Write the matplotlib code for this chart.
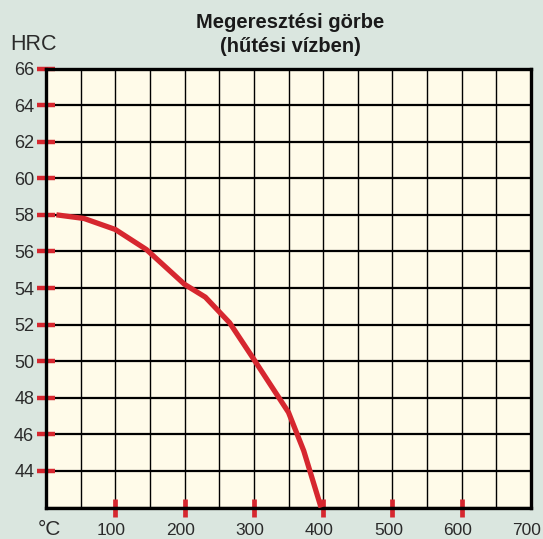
import matplotlib.pyplot as plt
import matplotlib.transforms as mtransforms
from matplotlib.ticker import MultipleLocator

plt.rcParams['font.family'] = ['Liberation Sans', 'DejaVu Sans']

# tempering curve: hardness vs tempering temperature (water quench)
temp_c = [15, 55, 100, 145, 200, 230, 265, 300, 350, 372, 397]
hardness_hrc = [58.0, 57.8, 57.2, 56.1, 54.2, 53.5, 52.1, 50.1, 47.2, 45.1, 42.0]

x_ticks = [0, 100, 200, 300, 400, 500, 600, 700]
x_labels = ['°C', '100', '200', '300', '400', '500', '600', '700']
y_ticks = [44, 46, 48, 50, 52, 54, 56, 58, 60, 62, 64, 66]

bg = '#dae6df'
cream = '#fffbe9'
red = '#d6272f'
txt = '#2b2b2b'

fig = plt.figure(figsize=(5.43, 5.39), dpi=100, facecolor=bg)
ax = fig.add_axes([46 / 543, 1 - 507.5 / 539, 485 / 543, 439 / 539])
ax.set_facecolor(cream)

ax.plot(temp_c, hardness_hrc, color=red, lw=3.8, solid_capstyle='butt', zorder=3)

ax.set_xlim(0, 700)
ax.set_ylim(42, 66)

ax.set_xticks(x_ticks)
ax.set_xticklabels(x_labels)
ax.set_yticks(y_ticks)
ax.xaxis.set_minor_locator(MultipleLocator(50))
ax.yaxis.set_minor_locator(MultipleLocator(2))

ax.xaxis.grid(True, which='both', color='black', lw=1.0, zorder=1)
ax.yaxis.grid(True, which='both', color='black', lw=1.6, zorder=1)
ax.set_axisbelow(True)

ax.tick_params(which='minor', length=0)
ax.tick_params(axis='y', which='major', direction='inout', length=13, width=3.2,
               color=red, labelsize=13, labelcolor=txt, pad=2)
ax.tick_params(axis='x', which='major', direction='inout', length=13, width=3.4,
               color=red, labelsize=12.5, labelcolor=txt, pad=5)

# no tick marks at the two ends of the temperature axis
xt = ax.xaxis.get_major_ticks()
xt[0].tick1line.set_visible(False)
xt[-1].tick1line.set_visible(False)
xt[0].label1.set_fontsize(15)

# temperature labels sit a little left of their ticks; the unit a bit higher
labels = ax.get_xticklabels()
for i, lab in enumerate(labels):
    if i == 0:
        off = mtransforms.ScaledTranslation(3 / 100, 3 / 100, fig.dpi_scale_trans)
    else:
        off = mtransforms.ScaledTranslation(-4 / 100, 0, fig.dpi_scale_trans)
    lab.set_transform(lab.get_transform() + off)

for s in ax.spines.values():
    s.set_linewidth(2.4)
    s.set_color('black')
    s.set_zorder(2)

fig.text(290 / 543, 1 - 23 / 539, 'Megeresztési görbe', ha='center', va='center',
         fontsize=14.5, fontweight='bold', color='#1a1a1a')
fig.text(290 / 543, 1 - 47 / 539, '(hűtési vízben)', ha='center', va='center',
         fontsize=14.5, fontweight='bold', color='#1a1a1a')
fig.text(10 / 543, 1 - 45 / 539, 'HRC', ha='left', va='center',
         fontsize=15.5, color=txt)

fig.savefig('out.png', dpi=100, facecolor=bg)
